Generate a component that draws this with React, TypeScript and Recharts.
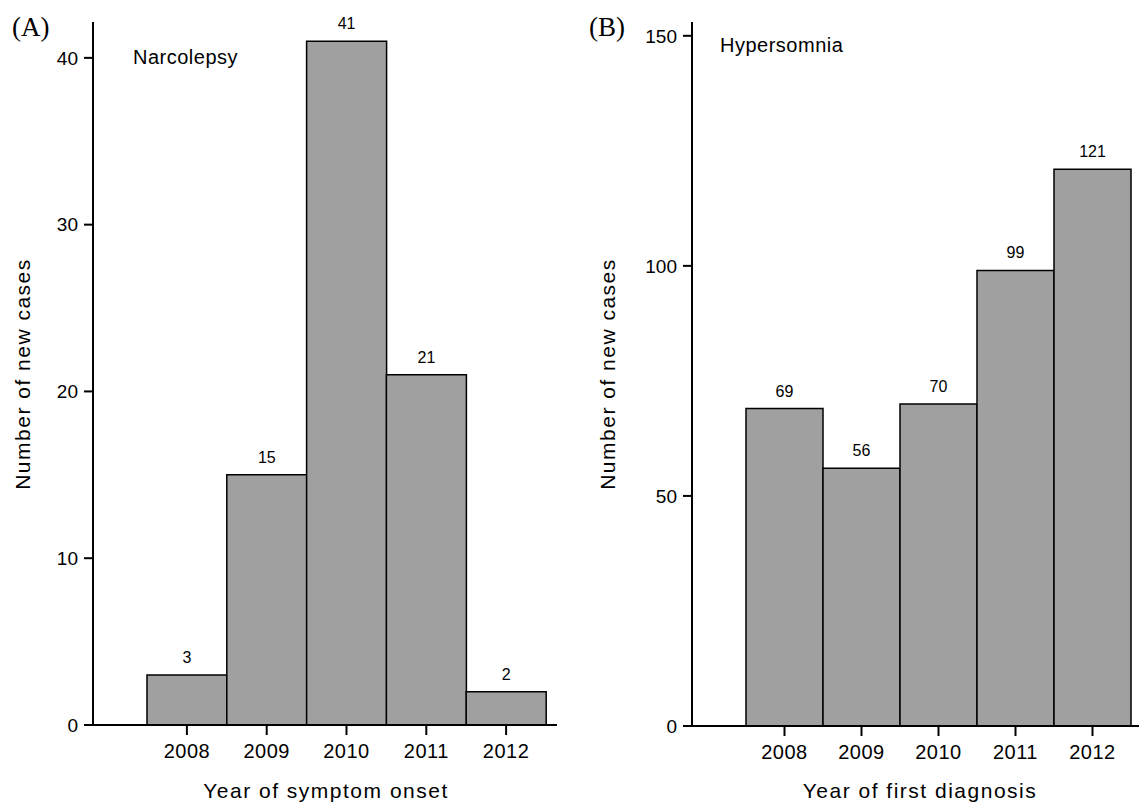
import React from "react";
import { BarChart, Bar, XAxis, YAxis, LabelList } from "recharts";

const years = ["2008", "2009", "2010", "2011", "2012"];
const narcolepsyCases = [3, 15, 41, 21, 2];
const hypersomniaCases = [69, 56, 70, 99, 121];
const narcolepsyTicks = [0, 10, 20, 30, 40];
const hypersomniaTicks = [0, 50, 100, 150];

const FONT = "'Liberation Sans', Arial, sans-serif";
const BAR_FILL = "#a0a0a0";

const narcData = years.map((year, i) => ({ year, value: narcolepsyCases[i] }));
const hyperData = years.map((year, i) => ({ year, value: hypersomniaCases[i] }));

const xTickStyle = { fill: "#000", fontSize: 20, fontFamily: FONT, letterSpacing: 0.5 };
const yTickStyle = { fill: "#000", fontSize: 19, fontFamily: FONT };
const axisLine = { stroke: "#000", strokeWidth: 2 };

interface PanelProps {
  data: { year: string; value: number }[];
  ticks: number[];
  yMax: number;
  width: number;
  xAxisHeight: number;
  padLeft: number;
  padRight: number;
}

const Panel = ({ data, ticks, yMax, width, xAxisHeight, padLeft, padRight }: PanelProps) => (
  <BarChart
    width={width}
    height={802}
    data={data}
    margin={{ top: 22, right: 0, bottom: 0, left: 0 }}
    barCategoryGap={0}
  >
    <XAxis
      dataKey="year"
      height={xAxisHeight}
      padding={{ left: padLeft, right: padRight }}
      tick={xTickStyle}
      tickSize={10}
      tickMargin={9}
      axisLine={axisLine}
      tickLine={axisLine}
    />
    <YAxis
      width={93}
      domain={[0, yMax]}
      ticks={ticks}
      tick={yTickStyle}
      tickSize={9}
      tickMargin={6}
      axisLine={axisLine}
      tickLine={axisLine}
    />
    <Bar dataKey="value" fill={BAR_FILL} stroke="#000" strokeWidth={1.5} isAnimationActive={false}>
      <LabelList
        dataKey="value"
        position="top"
        offset={12}
        style={{ fill: "#000", fontSize: 16, fontFamily: FONT }}
      />
    </Bar>
  </BarChart>
);

const App = () => {
  const label = { fontFamily: FONT, fontSize: 21, fill: "#000", letterSpacing: 1.5 };
  return (
    <div style={{ position: "absolute", left: 0, top: 0, width: 1139, height: 802, background: "#fff" }}>
      <div style={{ position: "absolute", left: 0, top: 0 }}>
        <Panel
          data={narcData}
          ticks={narcolepsyTicks}
          yMax={42.15}
          width={557}
          xAxisHeight={77}
          padLeft={54}
          padRight={11}
        />
      </div>
      <div style={{ position: "absolute", left: 599, top: 0 }}>
        <Panel
          data={hyperData}
          ticks={hypersomniaTicks}
          yMax={153}
          width={540}
          xAxisHeight={76}
          padLeft={54}
          padRight={8}
        />
      </div>
      <svg width={1139} height={802} style={{ position: "absolute", left: 0, top: 0, pointerEvents: "none" }}>
        <text x={12} y={36} fontFamily="'Liberation Serif', 'Times New Roman', serif" fontSize={27}>(A)</text>
        <text x={589} y={36} fontFamily="'Liberation Serif', 'Times New Roman', serif" fontSize={27}>(B)</text>
        <text x={133} y={64} fontFamily={FONT} fontSize={20} letterSpacing={0.5}>Narcolepsy</text>
        <text x={720} y={52} fontFamily={FONT} fontSize={20} letterSpacing={0.5}>Hypersomnia</text>
        <text x={22} y={374} transform="rotate(-90 22 374)" textAnchor="middle" dominantBaseline="central" {...label}>
          Number of new cases
        </text>
        <text x={607} y={374} transform="rotate(-90 607 374)" textAnchor="middle" dominantBaseline="central" {...label}>
          Number of new cases
        </text>
        <text x={326} y={798} textAnchor="middle" {...label}>Year of symptom onset</text>
        <text x={920} y={798} textAnchor="middle" {...label}>Year of first diagnosis</text>
      </svg>
    </div>
  );
};

export default App;
